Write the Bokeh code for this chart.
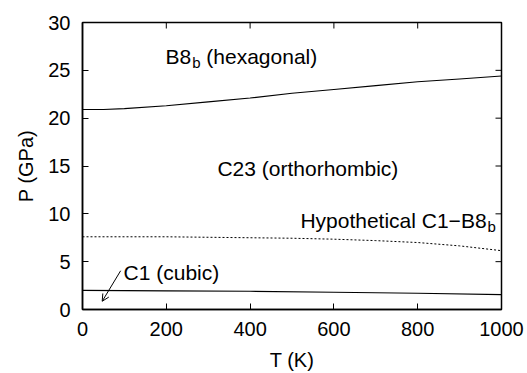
import math
from bokeh.plotting import figure
from bokeh.models import Range1d, FixedTicker, Arrow, OpenHead, Label
from bokeh.embed import file_html
from bokeh.resources import INLINE

# --- data ---
T_hex = [0, 50, 100, 200, 300, 400, 500, 600, 700, 800, 900, 1000]
P_hex = [20.9, 20.9, 21.0, 21.3, 21.7, 22.1, 22.6, 23.0, 23.4, 23.8, 24.1, 24.4]

T_hyp = [0, 100, 200, 300, 400, 500, 600, 700, 800, 900, 1000]
P_hyp = [7.6, 7.6, 7.6, 7.55, 7.5, 7.45, 7.35, 7.2, 7.0, 6.65, 6.15]

T_c1 = [0, 200, 400, 600, 800, 1000]
P_c1 = [2.0, 1.95, 1.9, 1.8, 1.7, 1.55]

x_ticks = [0, 200, 400, 600, 800, 1000]
y_ticks = [0, 5, 10, 15, 20, 25, 30]

x_label = "T (K)"
y_label = "P (GPa)"

# region labels: (T, P) anchor at left / vertical middle
lbl_hex = (198, 26.4)
lbl_orth = (322, 14.75)
lbl_hyp = (520, 9.3)
lbl_cubic = (98, 3.9)
arrow_from = (91, 4.05)
arrow_to = (47, 0.86)

FONT = "Liberation Sans"
FS = 20
LFS = 21

X0, X1 = 0, 1000
Y0, Y1 = 0, 30

p = figure(width=527, height=373, output_backend="svg", toolbar_location=None,
           x_range=Range1d(X0, X1), y_range=Range1d(Y0, Y1),
           min_border_left=82, min_border_right=26, min_border_top=22, min_border_bottom=62)
p.background_fill_color = "white"
p.border_fill_color = "white"
p.outline_line_color = "black"
p.outline_line_width = 1.5
p.xgrid.grid_line_color = None
p.ygrid.grid_line_color = None

def style_axis(ax, ticks):
    ax.ticker = FixedTicker(ticks=ticks)
    ax.major_tick_in = 6
    ax.major_tick_out = 0
    ax.minor_tick_line_color = None
    ax.axis_line_color = "black"
    ax.axis_line_width = 1.5
    ax.major_tick_line_color = "black"
    ax.major_tick_line_width = 1
    ax.major_label_text_font = FONT
    ax.major_label_text_color = "black"
    ax.major_label_text_font_size = f"{FS}px"
    ax.major_label_standoff = 12
    ax.axis_label_text_font = FONT
    ax.axis_label_text_font_size = f"{FS}px"
    ax.axis_label_text_font_style = "normal"
    ax.axis_label_text_color = "black"

style_axis(p.xaxis[0], x_ticks)
style_axis(p.yaxis[0], y_ticks)
p.xaxis[0].axis_label = x_label
p.yaxis[0].axis_label = y_label
p.xaxis[0].major_label_standoff = 12
p.xaxis[0].axis_label_standoff = 10
p.yaxis[0].axis_label_standoff = 8

# mirrored inward ticks on top and right edges
p.ray(x=x_ticks, y=[Y1] * len(x_ticks), length=6, length_units="screen",
      angle=-math.pi / 2, line_color="black", line_width=1)
p.ray(x=[X1] * len(y_ticks), y=y_ticks, length=6, length_units="screen",
      angle=math.pi, line_color="black", line_width=1)

p.line(T_hex, P_hex, line_color="black", line_width=1.1)
p.line(T_hyp, P_hyp, line_color="black", line_width=1, line_dash="2 2")
p.line(T_c1, P_c1, line_color="black", line_width=1.1)

p.add_layout(Arrow(end=OpenHead(size=7, line_color="black", line_width=1),
                   x_start=arrow_from[0], y_start=arrow_from[1],
                   x_end=arrow_to[0], y_end=arrow_to[1],
                   line_color="black", line_width=1))

def add_text(x, y, txt, size=LFS, xo=0, yo=0):
    p.add_layout(Label(x=x, y=y, text=txt, x_offset=xo, y_offset=yo,
                       text_font=FONT, text_font_size=f"{size}px",
                       text_color="black", text_baseline="middle", text_align="left"))

SUB = 15
w = lambda em: em * LFS
# B8_b (hexagonal)
add_text(*lbl_hex, "B8")
add_text(*lbl_hex, "b", size=SUB, xo=w(1.223) + 1, yo=-6)
add_text(*lbl_hex, "(hexagonal)", xo=w(1.223) + 1 + SUB * 0.556 + w(0.278))
# C23
add_text(*lbl_orth, "C23 (orthorhombic)")
# Hypothetical C1-B8_b
add_text(*lbl_hyp, "Hypothetical C1\u2212B8")
add_text(*lbl_hyp, "b", size=SUB, xo=w(8.865) + 1, yo=-6)
# C1 (cubic)
add_text(*lbl_cubic, "C1 (cubic)")

open("out.html", "w").write(file_html(p, INLINE))
